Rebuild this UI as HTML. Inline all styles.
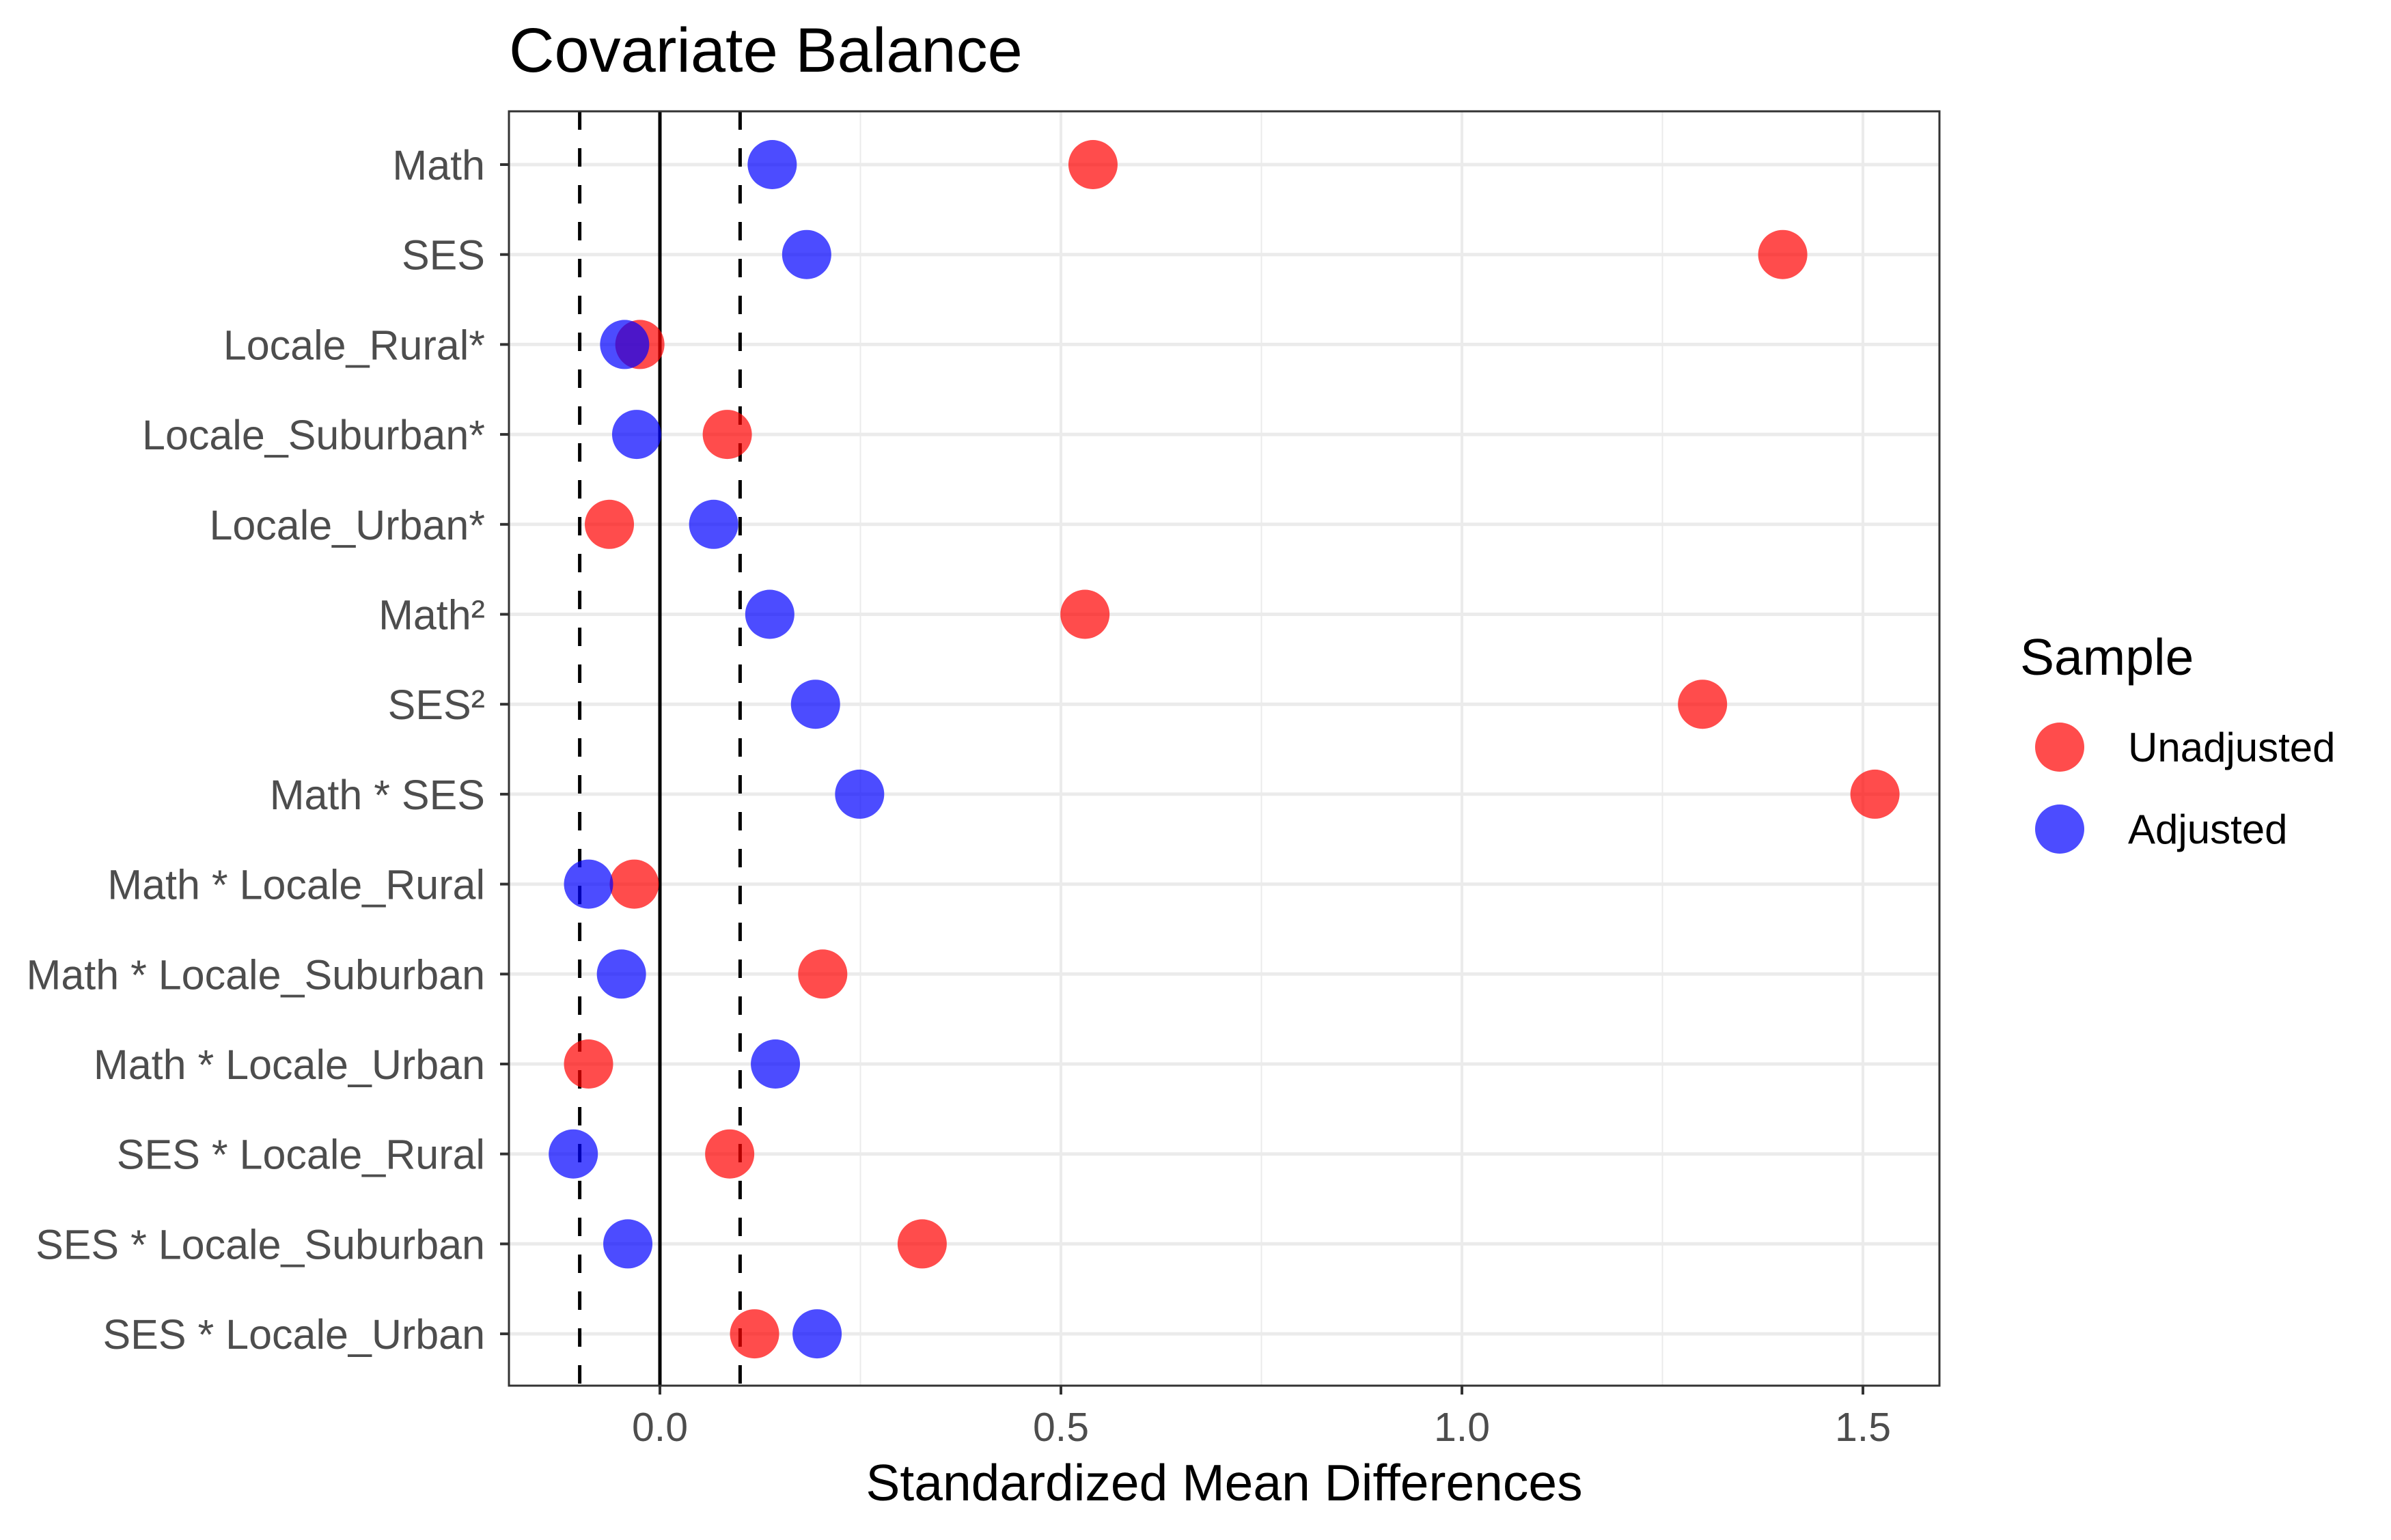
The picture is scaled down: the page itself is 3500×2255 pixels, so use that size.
<!DOCTYPE html>
<html><head><meta charset="utf-8"><style>
html,body{margin:0;padding:0;background:#fff;}
svg text{font-family:"Liberation Sans",Arial,sans-serif;}
</style></head><body>
<svg id="chart" width="3500" height="2250" viewBox="0 0 3500 2250" xmlns="http://www.w3.org/2000/svg">
<rect width="3500" height="2250" fill="#fff"/>
<text x="745" y="105" font-size="92" fill="#000">Covariate Balance</text>
<g id="grid"></g>
<g id="refs"></g>
<g id="pts"></g>
<rect x="745" y="163" width="2094" height="1866" fill="none" stroke="#333" stroke-width="3"/>
<g id="axes"></g>
<text x="1792" y="2197" font-size="75" text-anchor="middle" fill="#000">Standardized Mean Differences</text>
<g>
<text x="2957" y="988" font-size="75" fill="#000">Sample</text>
<circle cx="3015" cy="1094" r="36" fill="#FF0000" fill-opacity="0.7"/>
<text x="3115" y="1115" font-size="60" fill="#000">Unadjusted</text>
<circle cx="3015" cy="1214" r="36" fill="#0000FF" fill-opacity="0.7"/>
<text x="3115" y="1235" font-size="60" fill="#000">Adjusted</text>
</g>
</svg>
<script>
const categories = ["Math","SES","Locale_Rural*","Locale_Suburban*","Locale_Urban*","Math²","SES²","Math * SES","Math * Locale_Rural","Math * Locale_Suburban","Math * Locale_Urban","SES * Locale_Rural","SES * Locale_Suburban","SES * Locale_Urban"];
const unadjusted = [0.54,1.40,-0.025,0.084,-0.063,0.53,1.30,1.515,-0.032,0.203,-0.089,0.087,0.327,0.118];
const adjusted = [0.14,0.183,-0.044,-0.029,0.067,0.137,0.194,0.249,-0.089,-0.048,0.144,-0.108,-0.04,0.196];
const xTicks = [0,0.5,1,1.5];
const xTickLabels = ["0.0","0.5","1.0","1.5"];
const xMinor = [0.25,0.75,1.25];
const thresholds = [-0.1,0.1];

const NS="http://www.w3.org/2000/svg";
const X0=966, XU=1174, Y0=241, YS=131.7, PL=745, PR=2839, PT=163, PB=2029;
const xs=v=>X0+v*XU;
const ys=i=>Y0+i*YS;
function mk(tag,attrs,parent){const e=document.createElementNS(NS,tag);for(const k in attrs)e.setAttribute(k,attrs[k]);document.getElementById(parent).appendChild(e);return e;}

xMinor.forEach(v=>{
 const l=mk('line',{x1:xs(v),x2:xs(v),y1:PT,y2:PB,stroke:'#EBEBEB','stroke-width':2},'grid');
 
 
});
xTicks.forEach(v=>{
 const l=mk('line',{x1:xs(v),x2:xs(v),y1:PT,y2:PB,stroke:'#EBEBEB','stroke-width':4},'grid');
 
 
});
categories.forEach((c,i)=>{
 const l=mk('line',{x1:PL,x2:PR,y1:ys(i),y2:ys(i),stroke:'#EBEBEB','stroke-width':5},'grid');
 
 
 const t=mk('line',{x1:PL-13,x2:PL,y1:ys(i),y2:ys(i),stroke:'#333','stroke-width':4},'axes');
 
 
 const tx=mk('text',{x:PL-35,y:ys(i)+22,'font-size':61,'text-anchor':'end',fill:'#4D4D4D'},'axes');
 tx.textContent=c;
 
 
});
xTicks.forEach((v,i)=>{
 const t=mk('line',{x1:xs(v),x2:xs(v),y1:PB,y2:PB+13,stroke:'#333','stroke-width':4},'axes');
 
 
 const tx=mk('text',{x:xs(v),y:PB+81,'font-size':59,'text-anchor':'middle',fill:'#4D4D4D'},'axes');
 tx.textContent=xTickLabels[i];
 
 
});
const z=mk('line',{x1:xs(0),x2:xs(0),y1:PT,y2:PB,stroke:'#000','stroke-width':5},'refs');


thresholds.forEach(v=>{
 const l=mk('line',{x1:xs(v),x2:xs(v),y1:PT,y2:PB,stroke:'#000','stroke-width':5,'stroke-dasharray':'27 27'},'refs');
 
 
});
unadjusted.forEach((v,i)=>{
 const c=mk('circle',{cx:xs(v),cy:ys(i),r:36,fill:'#FF0000','fill-opacity':0.7},'pts');
 
 
});
adjusted.forEach((v,i)=>{
 const c=mk('circle',{cx:xs(v),cy:ys(i),r:36,fill:'#0000FF','fill-opacity':0.7},'pts');
 
 
});
</script>
</body></html>
